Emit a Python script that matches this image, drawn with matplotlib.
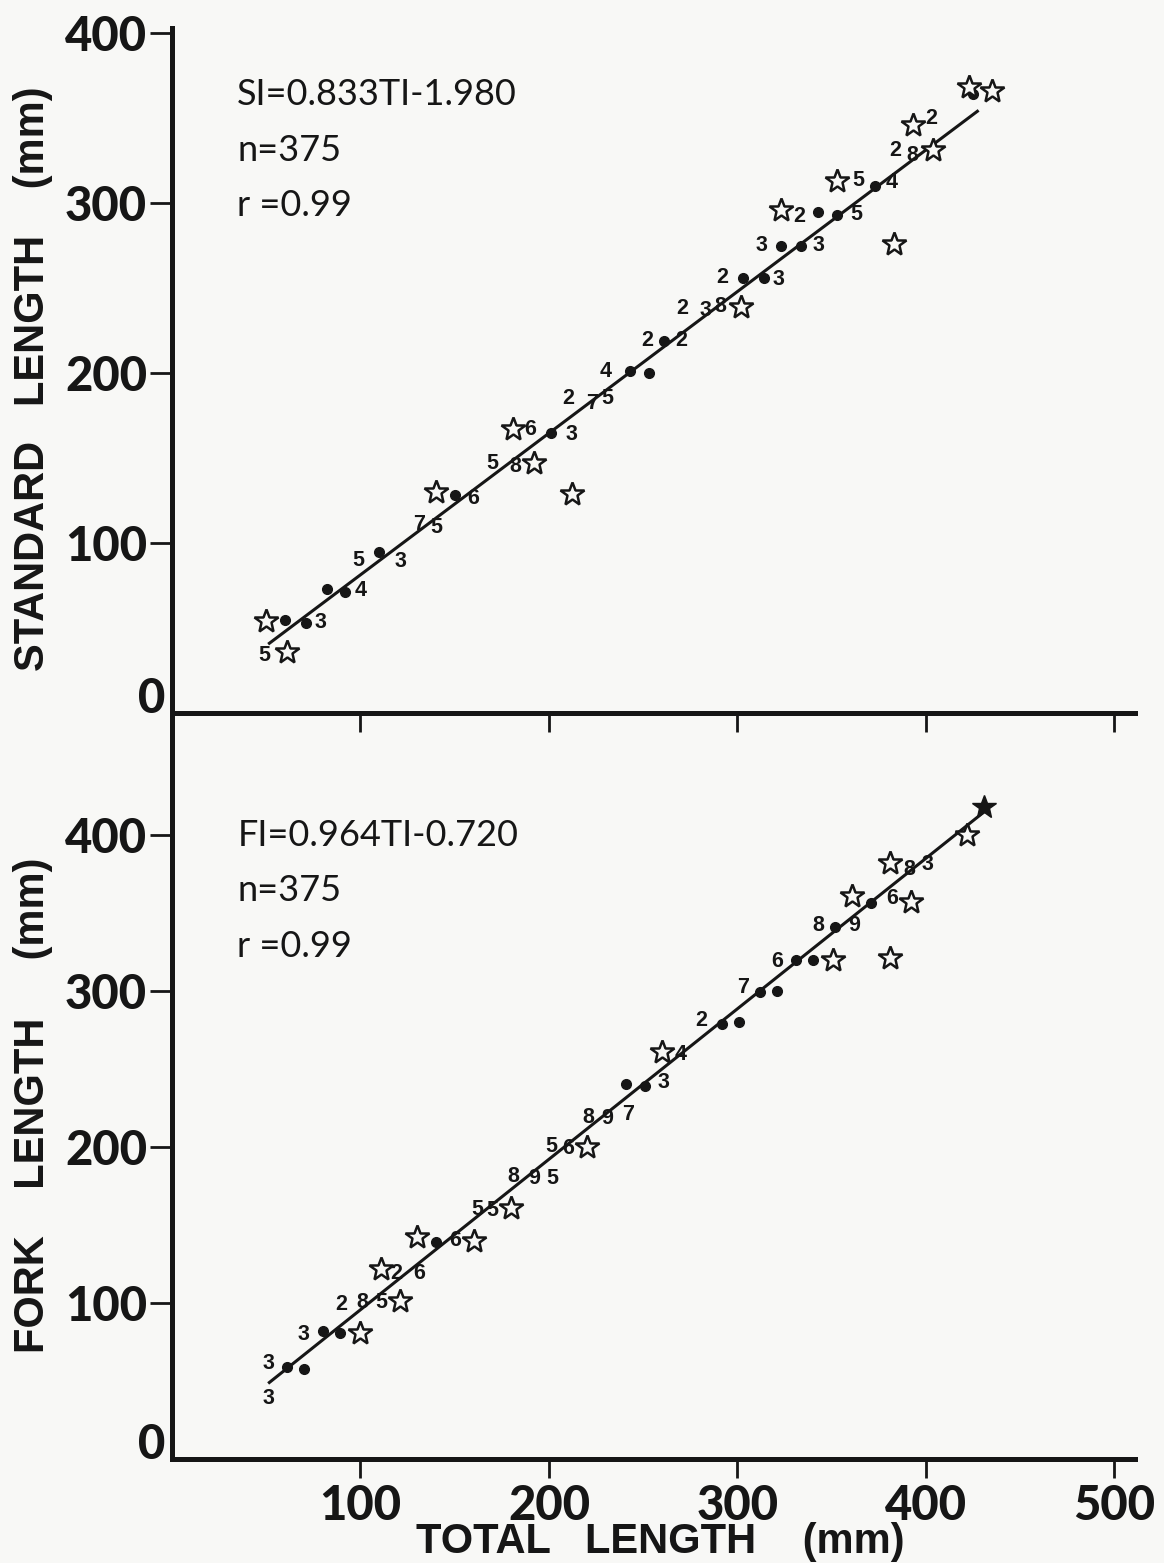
import matplotlib
matplotlib.use("Agg")
import matplotlib.pyplot as plt
from matplotlib import font_manager
import numpy as np

# standard length vs total length (mm)
sl_dot_x = [60, 71, 82, 92, 110, 150, 201, 243, 253, 261, 303, 314, 323, 334, 343, 353, 373, 425]
sl_dot_y = [55, 53, 73, 71, 95, 128, 165, 201, 200, 219, 256, 256, 275, 275, 295, 293, 310, 364]
sl_star_x = [50, 61, 140, 181, 192, 212, 302, 323, 353, 383, 393, 404, 423, 435]
sl_star_y = [54, 36, 130, 167, 147, 129, 239, 296, 313, 276, 346, 331, 368, 366]
sl_num_x = [49, 79, 100, 99, 121, 131, 140, 160, 170, 182, 190, 212, 210, 223, 231, 230,
            252, 270, 271, 283, 291, 292, 322, 313, 343, 333, 363, 364, 382, 384, 393, 403]
sl_num_y = [34, 53, 72, 90, 89, 111, 109, 126, 147, 145, 167, 164, 185, 182, 185, 201,
            219, 219, 238, 237, 239, 256, 255, 275, 275, 292, 293, 313, 312, 331, 328, 350]
sl_num = ['5', '3', '4', '5', '3', '7', '5', '6', '5', '8', '6', '3', '2', '7', '5', '4',
          '2', '2', '2', '3', '8', '2', '3', '3', '3', '2', '5', '5', '4', '2', '8', '2']
sl_slope, sl_icpt = 0.833, -1.980
sl_range = [51, 428]

# fork length vs total length (mm)
fl_dot_x = [61, 70, 80, 89, 140, 241, 251, 292, 301, 312, 321, 331, 340, 352, 371]
fl_dot_y = [59, 58, 82, 81, 139, 240, 239, 279, 280, 299, 300, 320, 320, 341, 356]
fl_star_x = [100, 121, 111, 130, 160, 180, 220, 260, 351, 381, 361, 392, 381, 422]
fl_star_y = [81, 101, 122, 142, 140, 161, 200, 261, 320, 321, 361, 357, 382, 400]
fl_full_star_x = [431]
fl_full_star_y = [418]
fl_num_x = [51, 51, 70, 90, 101, 111, 119, 131, 150, 162, 170, 181, 192, 202, 201, 210,
            221, 231, 242, 261, 270, 281, 303, 321, 343, 362, 382, 391, 401]
fl_num_y = [39, 61, 80, 99, 100, 100, 119, 119, 140, 160, 159, 181, 180, 180, 200, 199,
            219, 218, 221, 241, 259, 281, 302, 319, 342, 342, 359, 378, 381]
fl_num = ['3', '3', '3', '2', '8', '5', '2', '6', '6', '5', '5', '8', '9', '5', '5', '6',
          '8', '9', '7', '3', '4', '2', '7', '6', '8', '9', '6', '8', '3']
fl_slope, fl_icpt = 0.964, -0.720
fl_range = [51, 433]

xticks = [100, 200, 300, 400, 500]
yticks = [100, 200, 300, 400]

ink = '#161616'
paper = '#f8f8f6'
num_font = ['Liberation Sans', 'DejaVu Sans']
tick_font = ['Lato', 'DejaVu Sans']
note_font = ['Lato', 'DejaVu Sans']

# narrow face for the axis titles if there is one
try:
    font_manager.findfont(font_manager.FontProperties(family='Liberation Sans Narrow', weight='bold'),
                          fallback_to_default=False)
    label_font, label_size = ['Liberation Sans Narrow'], 37
except ValueError:
    label_font, label_size = ['Liberation Sans'], 30

fig = plt.figure(figsize=(11.64, 15.63), dpi=100, facecolor=paper)
ax1 = fig.add_axes([0.1478, 0.5438, 0.8273, 0.4383])
ax2 = fig.add_axes([0.1478, 0.0665, 0.8273, 0.4773])


def panel(ax, dx, dy, sx, sy, nx, ny, nums, slope, icpt, rng, ytop):
    ax.patch.set_visible(False)
    xs = np.array(rng)
    ax.plot(xs, slope * xs + icpt, color=ink, lw=2.2, zorder=2, solid_capstyle='butt')
    ax.plot(dx, dy, 'o', color=ink, ms=7, zorder=3)
    ax.plot(sx, sy, '*', mfc=paper, mec=ink, mew=1.8, ms=18, zorder=4)
    for x, y, n in zip(nx, ny, nums):
        ax.text(x, y, n, ha='center', va='center', fontsize=15.5, fontweight='bold',
                family=num_font, color=ink, zorder=5)
    ax.set_xlim(0, 511)
    ax.set_ylim(0, ytop)
    for s in ['top', 'right']:
        ax.spines[s].set_visible(False)
    for s in ['left', 'bottom']:
        ax.spines[s].set_linewidth(3.6)
        ax.spines[s].set_color(ink)
    ax.set_xticks(xticks)
    ax.set_yticks(yticks)
    ax.tick_params(axis='x', length=14, width=2, color=ink, pad=4)
    ax.tick_params(axis='y', length=16, width=2, color=ink, pad=2)
    for lab in ax.get_yticklabels() + ax.get_xticklabels():
        lab.set_family(tick_font)
        lab.set_fontweight('black')
        lab.set_fontsize(34)
        lab.set_color(ink)
    ax.annotate('0', xy=(0, 0), xytext=(-5, 10), textcoords='offset points',
                ha='right', va='center', fontsize=34, fontweight='black',
                family=tick_font, color=ink, annotation_clip=False)


panel(ax1, sl_dot_x, sl_dot_y, sl_star_x, sl_star_y, sl_num_x, sl_num_y, sl_num,
      sl_slope, sl_icpt, sl_range, 403)
panel(ax2, fl_dot_x, fl_dot_y, fl_star_x, fl_star_y, fl_num_x, fl_num_y, fl_num,
      fl_slope, fl_icpt, fl_range, 478)
ax2.plot(fl_full_star_x, fl_full_star_y, '*', color=ink, ms=18, zorder=4)
ax1.tick_params(labelbottom=False)

# regression notes
for ax, lines, y0 in [(ax1, ['SI=0.833TI-1.980', 'n=375', 'r =0.99'], -48),
                      (ax2, ['FI=0.964TI-0.720', 'n=375', 'r =0.99'], -88)]:
    for i, t in enumerate(lines):
        ax.annotate(t, xy=(0, 1), xycoords='axes fraction', xytext=(47, y0 - 40 * i),
                    textcoords='offset points', ha='left', va='center',
                    fontsize=26, fontweight='normal', family=note_font, color=ink)

fig.text(0.0284, 0.758, 'STANDARD   LENGTH    (mm)', rotation=90, ha='center', va='center',
         fontsize=label_size, fontweight='bold', family=label_font, color=ink)
fig.text(0.0284, 0.293, 'FORK    LENGTH     (mm)', rotation=90, ha='center', va='center',
         fontsize=label_size, fontweight='bold', family=label_font, color=ink)
fig.text(0.567, 0.0135, 'TOTAL   LENGTH    (mm)', ha='center', va='center',
         fontsize=label_size, fontweight='bold', family=label_font, color=ink)

fig.savefig('out.png', dpi=100, facecolor=paper)
